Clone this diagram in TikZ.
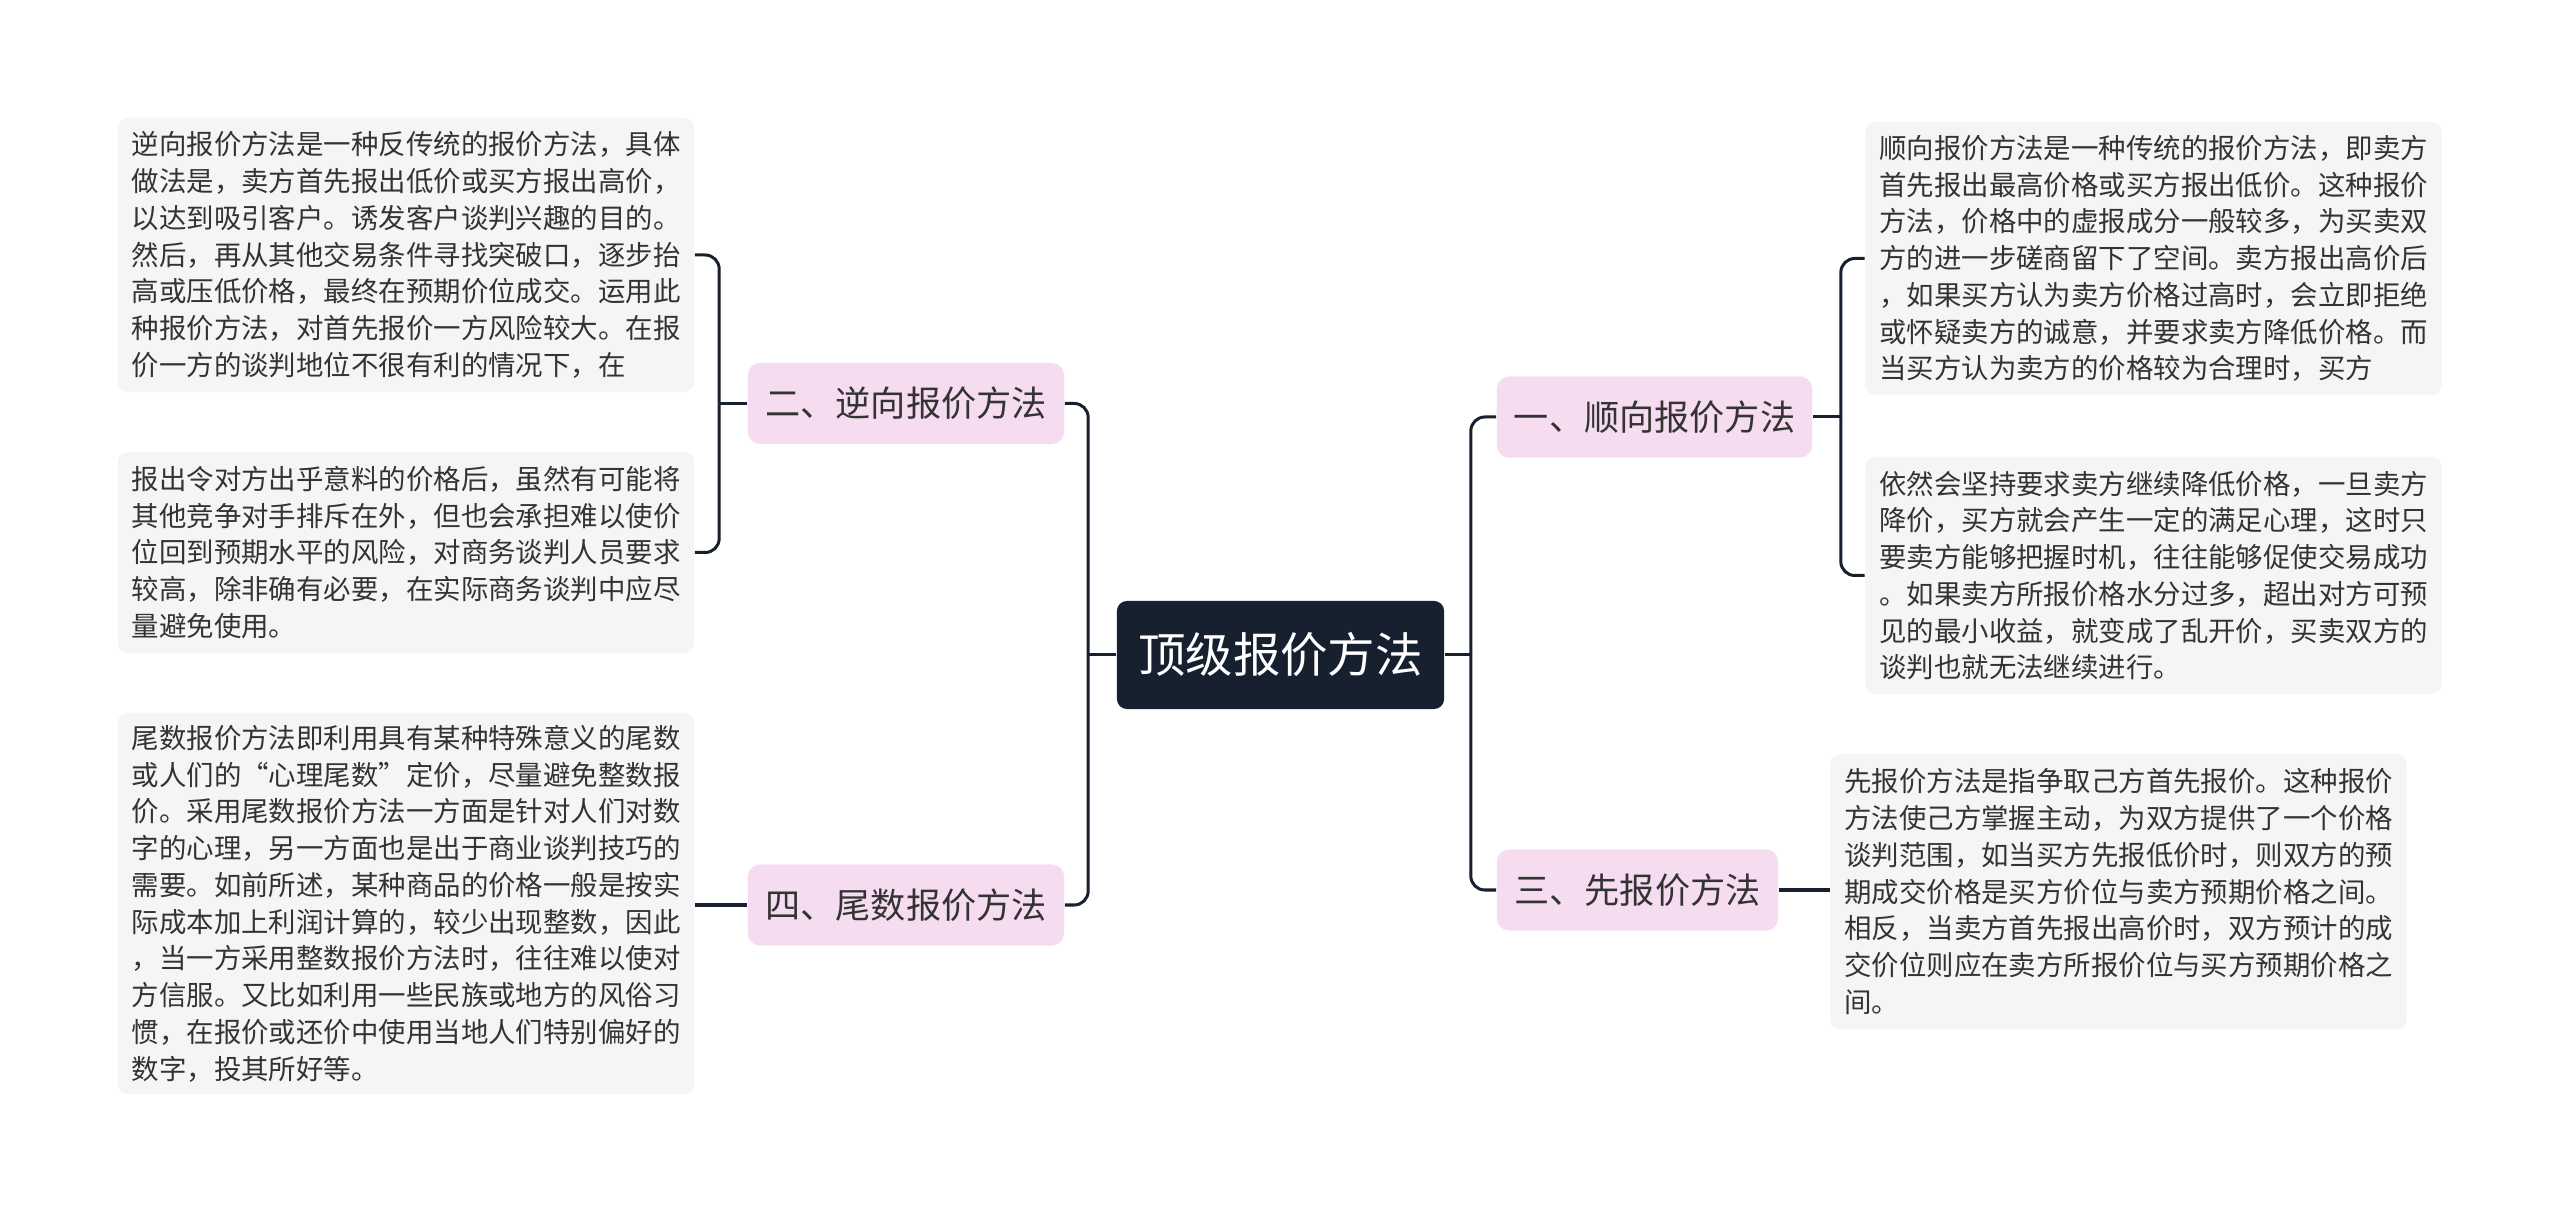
\documentclass[tikz,border=0pt]{standalone}
\usepackage{fontspec}
\setmainfont{Noto Sans CJK SC}
\usetikzlibrary{positioning,calc}
\definecolor{navy}{RGB}{22,32,47}
\definecolor{pinkfill}{RGB}{246,220,241}
\definecolor{leaffill}{RGB}{245,245,245}
\definecolor{ink}{RGB}{51,51,51}
\tikzset{root/.style={fill=navy,text=white,rounded corners=1mm,minimum width=3.27cm,minimum height=1.08cm,font=\fontsize{13.5pt}{16pt}\selectfont},
 br/.style={fill=pinkfill,text=ink,rounded corners=1.2mm,minimum height=0.81cm,font=\fontsize{10pt}{12pt}\selectfont},
 leaf/.style={fill=leaffill,text=ink,rounded corners=1mm,minimum width=5.76cm,text width=5.48cm,align=left,inner sep=0pt,font=\fontsize{7.8pt}{10.45pt}\selectfont},
 wire/.style={draw=navy,line width=0.3mm,rounded corners=1.4mm}}

\begin{document}
\begin{tikzpicture}[x=0.01cm,y=-0.01cm]
\fill[white](0,0)rectangle(2560,1213);
\useasboundingbox(0,0)rectangle(2560,1213);
% centre and main branches
\node[root](root) at(1280.5,655){顶级报价方法};
\node[br,minimum width=3.16cm](b2) at(906,403.5){二、逆向报价方法};
\node[br,minimum width=3.16cm](b4) at(906,905){四、尾数报价方法};
\node[br,minimum width=3.15cm](b1) at(1654.5,417){一、顺向报价方法};
\node[br,minimum width=2.81cm](b3) at(1637.5,890){三、先报价方法};
% left leaves
\node[leaf,minimum height=2.74cm](la) at(406,255){逆向报价方法是一种反传统的报价方法，具体\\做法是，卖方首先报出低价或买方报出高价，\\以达到吸引客户。诱发客户谈判兴趣的目的。\\然后，再从其他交易条件寻找突破口，逐步抬\\高或压低价格，最终在预期价位成交。运用此\\种报价方法，对首先报价一方风险较大。在报\\价一方的谈判地位不很有利的情况下，在};
\node[leaf,minimum height=2.01cm](lb) at(406,552.5){报出令对方出乎意料的价格后，虽然有可能将\\其他竞争对手排斥在外，但也会承担难以使价\\位回到预期水平的风险，对商务谈判人员要求\\较高，除非确有必要，在实际商务谈判中应尽\\量避免使用。};
\node[leaf,minimum height=3.81cm](lc) at(406,903.5){尾数报价方法即利用具有某种特殊意义的尾数\\或人们的“心理尾数”定价，尽量避免整数报\\价。采用尾数报价方法一方面是针对人们对数\\字的心理，另一方面也是出于商业谈判技巧的\\需要。如前所述，某种商品的价格一般是按实\\际成本加上利润计算的，较少出现整数，因此\\，当一方采用整数报价方法时，往往难以使对\\方信服。又比如利用一些民族或地方的风俗习\\惯，在报价或还价中使用当地人们特别偏好的\\数字，投其所好等。};
% right leaves
\node[leaf,minimum height=2.73cm](ra) at(2153.5,258.5){顺向报价方法是一种传统的报价方法，即卖方\\首先报出最高价格或买方报出低价。这种报价\\方法，价格中的虚报成分一般较多，为买卖双\\方的进一步磋商留下了空间。卖方报出高价后\\，如果买方认为卖方价格过高时，会立即拒绝\\或怀疑卖方的诚意，并要求卖方降低价格。而\\当买方认为卖方的价格较为合理时，买方};
\node[leaf,minimum height=2.37cm](rb) at(2153.5,575.5){依然会坚持要求卖方继续降低价格，一旦卖方\\降价，买方就会产生一定的满足心理，这时只\\要卖方能够把握时机，往往能够促使交易成功\\。如果卖方所报价格水分过多，超出对方可预\\见的最小收益，就变成了乱开价，买卖双方的\\谈判也就无法继续进行。};
\node[leaf,minimum height=2.75cm](rc) at(2118.5,891.5){先报价方法是指争取己方首先报价。这种报价\\方法使己方掌握主动，为双方提供了一个价格\\谈判范围，如当买方先报低价时，则双方的预\\期成交价格是买方价位与卖方预期价格之间。\\相反，当卖方首先报出高价时，双方预计的成\\交价位则应在卖方所报价位与买方预期价格之\\间。};
% connectors
\coordinate(lj) at($(root.west)+(-28,0)$);
\coordinate(rj) at($(root.east)+(26,0)$);
\coordinate(s1) at($(b1.east)+(28,0)$);
\coordinate(s2) at($(b2.west)+(-28,0)$);
\draw[wire](root.west)--(lj);
\draw[wire](b2.east)-|(lj);
\draw[wire](b4.east)-|(lj);
\draw[wire](root.east)--(rj);
\draw[wire](b1.west)-|(rj);
\draw[wire](b3.west)-|(rj);
\draw[wire](b1.east)--(s1);
\draw[wire](ra.west)-|(s1);
\draw[wire](rb.west)-|(s1);
\draw[wire](b2.west)--(s2);
\draw[wire](la.east)-|(s2);
\draw[wire](lb.east)-|(s2);
\draw[wire](b4.west)--(b4.west-|lc.east);
\draw[wire](b3.east)--(b3.east-|rc.west);
\end{tikzpicture}
\end{document}
